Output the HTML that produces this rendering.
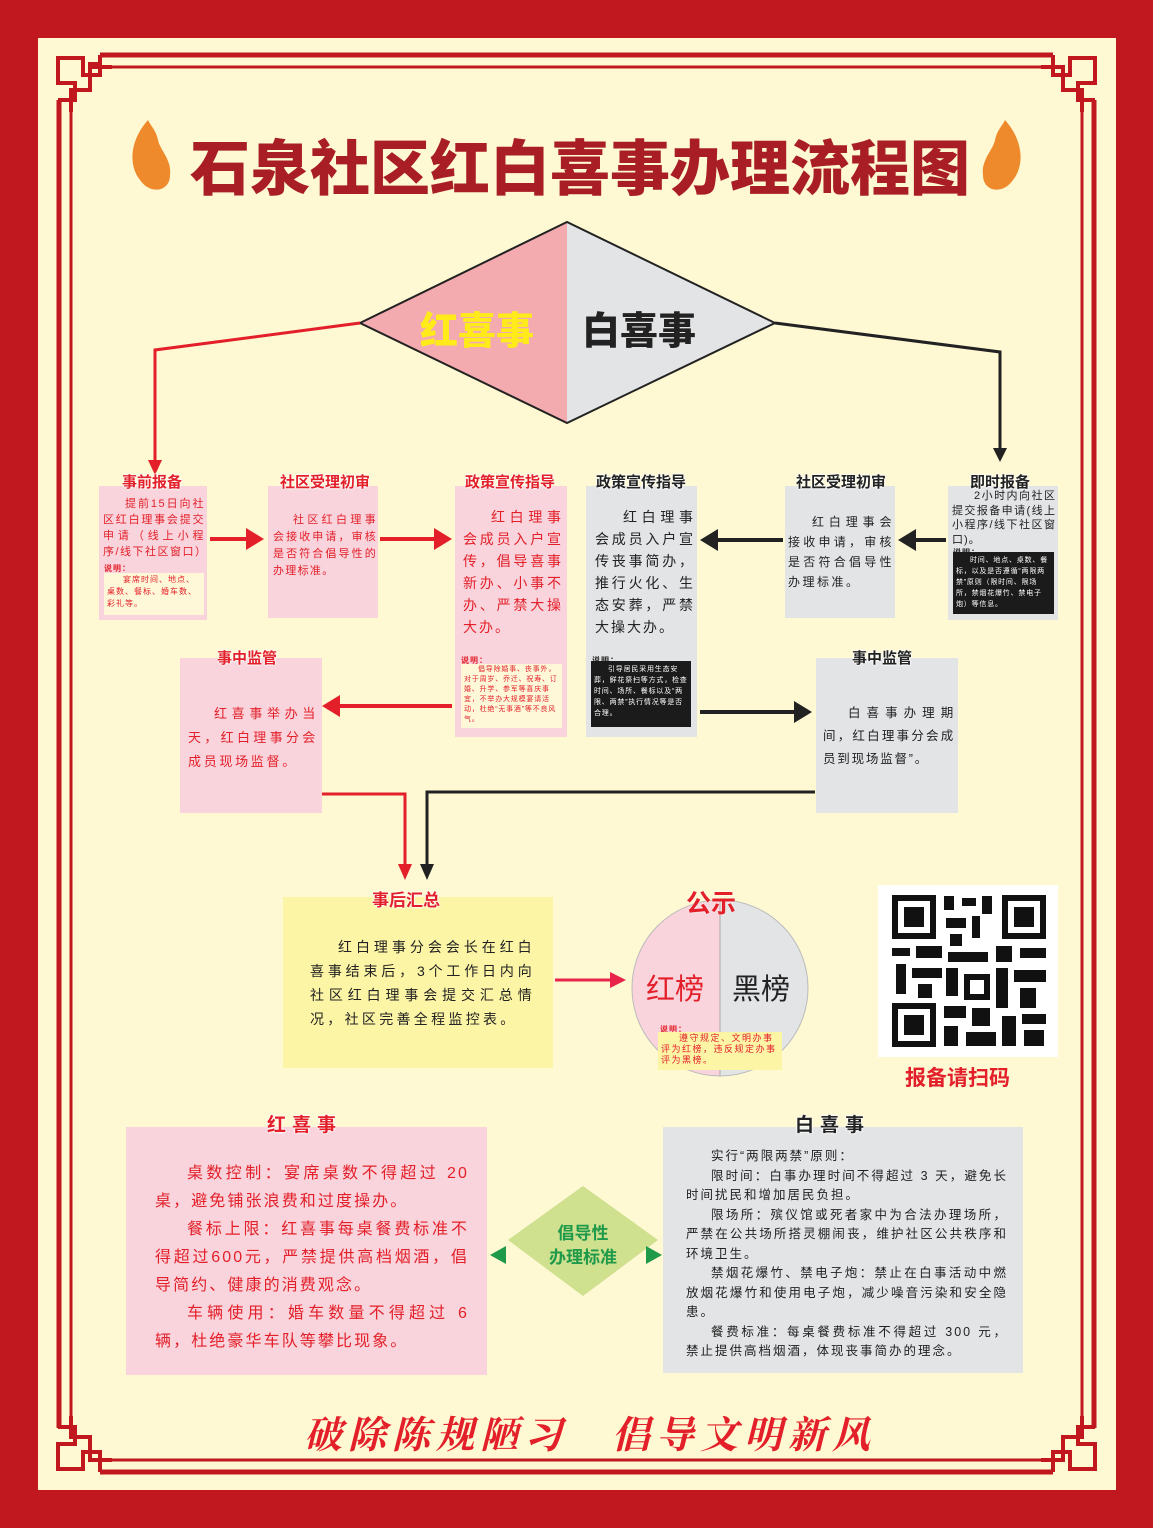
<!DOCTYPE html>
<html><head><meta charset="utf-8"><style>
*{margin:0;padding:0;box-sizing:border-box}
body{width:1153px;height:1528px;background:#c1181f;position:relative;overflow:hidden;font-family:"Liberation Sans","Noto Sans CJK SC",sans-serif}
.cream{position:absolute;left:38px;top:38px;width:1078px;height:1452px;background:#fef8d3}
.a{position:absolute}
.pk{background:#f9d4dc}
.gy{background:#e3e4e6}
.t{position:absolute;font-weight:bold;font-size:15px;white-space:nowrap;text-shadow:0 0 2px #fff,0 0 2px #fff,0 0 2px #fff}
.r{color:#e3202a}.k{color:#222}
.bt{font-size:11.5px;line-height:17px;letter-spacing:1px;text-indent:2em;text-align:justify}
.note{font-size:8px;line-height:12px;letter-spacing:1px}
</style></head><body>
<div class="cream"></div>
<svg class="a" style="left:0;top:0" width="1153" height="1528">
 <g fill="none" stroke="#c1181f">
  <path d="M100 55 H1053 M100 1472 H1053 M59 100 V1428 M1094 100 V1428" stroke-width="5"/>
  <path d="M112 67 H1041 M112 1460 H1041 M71 112 V1416 M1082 112 V1416" stroke-width="3"/>
  <g stroke-width="4">
   <path d="M100 55 V75 H83 V58 H58 V83 H75 V100 H58 M100 64 H88 M71 112 V90 H90 V67 H112"/>
   <path d="M1053 55 V75 H1070 V58 H1095 V83 H1078 V100 H1095 M1082 112 V90 H1063 V67 H1041"/>
   <path d="M100 1472 V1452 H83 V1469 H58 V1444 H75 V1427 H58 M71 1416 V1437 H90 V1460 H112"/>
   <path d="M1053 1472 V1452 H1070 V1469 H1095 V1444 H1078 V1427 H1095 M1082 1416 V1437 H1063 V1460 H1041"/>
  </g>
 </g>
 <g fill="#ee8a2b">
  <path d="M148 120 C130 140 128 165 140 180 C150 195 170 192 170 175 C172 160 160 150 158 140 C156 130 150 125 148 120Z"/>
  <path d="M1005 120 C1023 140 1025 165 1013 180 C1003 195 983 192 983 175 C981 160 993 150 995 140 C997 130 1003 125 1005 120Z"/>
 </g>
 <polygon points="360,323 567,222 567,423" fill="#f4abb0"/>
 <polygon points="567,222 775,323 567,423" fill="#e3e4e6"/>
 <polygon points="360,323 567,222 775,323 567,423" fill="none" stroke="#222" stroke-width="2"/>
 <g stroke-width="3" fill="none">
  <path d="M360 323 L155 350 V462" stroke="#e3202a"/>
  <path d="M775 323 L1000 352 V450" stroke="#222"/>
  <path d="M210 539 H248 M380 539 H436 M452 706 H338" stroke="#e3202a" stroke-width="4"/>
  <path d="M946 540 H914 M783 540 H716 M700 712 H796" stroke="#222" stroke-width="4"/>
  <path d="M320 794 H405 V866" stroke="#e3202a"/>
  <path d="M815 792 H427 V866" stroke="#222"/>
  <path d="M555 980 H612" stroke="#e8244a"/>
 </g>
 <g fill="#e3202a">
  <polygon points="148,460 162,460 155,475"/>
  <polygon points="246,528 264,539 246,550"/><polygon points="434,528 452,539 434,550"/>
  <polygon points="340,695 322,706 340,717"/>
  <polygon points="398,864 412,864 405,880"/>
  <polygon points="610,972 626,980 610,988" fill="#e8244a"/>
 </g>
 <g fill="#222">
  <polygon points="993,448 1007,448 1000,462"/>
  <polygon points="916,529 898,540 916,551"/><polygon points="718,529 700,540 718,551"/>
  <polygon points="794,701 812,712 794,723"/>
  <polygon points="420,864 434,864 427,880"/>
 </g>
 <path d="M720 900 A88 88 0 0 0 720 1076 Z" fill="#f9d4dc"/>
 <path d="M720 900 A88 88 0 0 1 720 1076 Z" fill="#e3e4e6"/>
 <circle cx="720" cy="988" r="88" fill="none" stroke="#bbb" stroke-width="1"/>
 <line x1="720" y1="900" x2="720" y2="1076" stroke="#aaa"/>
 <polygon points="583,1186 658,1240 583,1296 508,1240" fill="#cfe08f"/>
 <polygon points="490,1255 506,1246 506,1264" fill="#1f9a4a"/>
 <polygon points="662,1255 646,1246 646,1264" fill="#1f9a4a"/>
 <rect x="878" y="885" width="180" height="172" fill="#fff"/>
 <g fill="#111">
  <rect x="892" y="895" width="44" height="44"/><rect x="898" y="901" width="32" height="32" fill="#fff"/><rect x="904" y="907" width="20" height="20"/>
  <rect x="1002" y="895" width="44" height="44"/><rect x="1008" y="901" width="32" height="32" fill="#fff"/><rect x="1014" y="907" width="20" height="20"/>
  <rect x="892" y="1003" width="44" height="44"/><rect x="898" y="1009" width="32" height="32" fill="#fff"/><rect x="904" y="1015" width="20" height="20"/>
  <rect x="944" y="896" width="10" height="14"/><rect x="962" y="898" width="14" height="8"/><rect x="982" y="896" width="10" height="18"/>
  <rect x="946" y="918" width="20" height="10"/><rect x="972" y="916" width="8" height="22"/><rect x="950" y="934" width="12" height="12"/>
  <rect x="892" y="948" width="18" height="8"/><rect x="916" y="946" width="26" height="12"/><rect x="948" y="952" width="40" height="10"/>
  <rect x="996" y="946" width="16" height="16"/><rect x="1020" y="948" width="26" height="10"/><rect x="896" y="964" width="10" height="30"/>
  <rect x="912" y="968" width="30" height="10"/><rect x="918" y="984" width="14" height="14"/><rect x="946" y="968" width="12" height="28"/>
  <rect x="964" y="974" width="26" height="26"/><rect x="970" y="980" width="14" height="14" fill="#fff"/><rect x="996" y="968" width="12" height="40"/>
  <rect x="1014" y="970" width="32" height="12"/><rect x="1020" y="988" width="16" height="20"/><rect x="944" y="1006" width="22" height="12"/>
  <rect x="972" y="1008" width="18" height="18"/><rect x="944" y="1026" width="14" height="20"/><rect x="966" y="1032" width="30" height="14"/>
  <rect x="1002" y="1016" width="14" height="30"/><rect x="1022" y="1014" width="24" height="10"/><rect x="1024" y="1030" width="20" height="16"/>
 </g>
</svg>

<div class="a" style="left:180px;top:130px;width:800px;text-align:center;font-size:60px;font-weight:900;color:#a81e24;line-height:80px">石泉社区红白喜事办理流程图</div>
<div class="a" style="left:420px;top:300px;font-size:38px;font-weight:900;color:#ffeb1a">红喜事</div>
<div class="a" style="left:582px;top:300px;font-size:38px;font-weight:900;color:#222">白喜事</div>

<div class="a pk" style="left:99px;top:486px;width:108px;height:134px"></div>
<div class="t r" style="left:122px;top:471px">事前报备</div>
<div class="a r bt" style="left:103px;top:496px;width:102px;font-size:11px;line-height:16px;letter-spacing:1.5px">提前15日向社区红白理事会提交申请（线上小程序/线下社区窗口）</div>
<div class="a r note" style="left:104px;top:563px;font-weight:bold">说明：</div>
<div class="a r note" style="left:104px;top:573px;width:100px;height:42px;background:#fff8d8;padding:1px 3px;text-indent:2em">宴席时间、地点、桌数、餐标、婚车数、彩礼等。</div>

<div class="a pk" style="left:268px;top:486px;width:110px;height:132px"></div>
<div class="t r" style="left:280px;top:471px">社区受理初审</div>
<div class="a r bt" style="left:273px;top:512px;width:104px;font-size:11px;line-height:17px;letter-spacing:1.3px;text-indent:20px">社区红白理事会接收申请，审核是否符合倡导性的办理标准。</div>

<div class="a pk" style="left:455px;top:486px;width:112px;height:251px"></div>
<div class="t r" style="left:465px;top:471px">政策宣传指导</div>
<div class="a r bt" style="left:463px;top:506px;width:100px;font-size:14px;line-height:22px;letter-spacing:2px">红白理事会成员入户宣传，倡导喜事新办、小事不办、严禁大操大办。</div>
<div class="a r note" style="left:461px;top:655px;font-weight:bold">说明：</div>
<div class="a r note" style="left:461px;top:664px;width:101px;height:64px;background:#fff8d8;padding:1px 3px;text-indent:2em;font-size:7px;line-height:10px;letter-spacing:.8px">倡导除婚事、丧事外，对于周岁、乔迁、祝寿、订婚、升学、参军等喜庆事宜，不举办大规模宴请活动，杜绝“无事酒”等不良风气。</div>

<div class="a gy" style="left:586px;top:486px;width:111px;height:251px"></div>
<div class="t k" style="left:596px;top:471px">政策宣传指导</div>
<div class="a k bt" style="left:595px;top:506px;width:100px;font-size:14px;line-height:22px;letter-spacing:2px">红白理事会成员入户宣传丧事简办，推行火化、生态安葬，严禁大操大办。</div>
<div class="a k note" style="left:592px;top:655px;font-weight:bold">说明：</div>
<div class="a note" style="left:591px;top:661px;width:100px;height:66px;background:#1c1b1b;color:#fff;padding:3px 3px;text-indent:2em;font-size:7px;line-height:11px;letter-spacing:.8px">引导居民采用生态安葬，鲜花祭扫等方式，检查时间、场所、餐标以及“两限、两禁”执行情况等是否合理。</div>

<div class="a gy" style="left:785px;top:486px;width:110px;height:132px"></div>
<div class="t k" style="left:796px;top:471px">社区受理初审</div>
<div class="a k bt" style="left:788px;top:512px;width:106px;font-size:12px;line-height:20px;letter-spacing:2.5px;text-indent:24px">红白理事会接收申请，审核是否符合倡导性办理标准。</div>

<div class="a gy" style="left:948px;top:486px;width:110px;height:134px"></div>
<div class="t k" style="left:970px;top:471px">即时报备</div>
<div class="a k bt" style="left:952px;top:489px;width:104px;font-size:11px;line-height:14.5px;letter-spacing:1px">2小时内向社区提交报备申请(线上小程序/线下社区窗口)。</div>
<div class="a k note" style="left:953px;top:547px;font-weight:bold">说明：</div>
<div class="a note" style="left:953px;top:552px;width:101px;height:62px;background:#1c1b1b;color:#fff;padding:3px 3px;text-indent:2em;font-size:7px;line-height:11px;letter-spacing:.8px">时间、地点、桌数、餐标，以及是否遵循“两限两禁”原则（限时间、限场所，禁烟花爆竹、禁电子炮）等信息。</div>

<div class="a pk" style="left:180px;top:658px;width:142px;height:155px"></div>
<div class="t r" style="left:217px;top:647px">事中监管</div>
<div class="a r bt" style="left:188px;top:702px;width:130px;font-size:13px;line-height:24px;letter-spacing:2.7px">红喜事举办当天，红白理事分会成员现场监督。</div>

<div class="a gy" style="left:816px;top:658px;width:142px;height:155px"></div>
<div class="t k" style="left:852px;top:647px">事中监管</div>
<div class="a k bt" style="left:823px;top:702px;width:132px;font-size:12.5px;line-height:23px;letter-spacing:1.8px">白喜事办理期间，红白理事分会成员到现场监督”。</div>

<div class="a" style="left:283px;top:897px;width:270px;height:171px;background:#fdf5a6"></div>
<div class="t r" style="left:372px;top:886px;font-size:17px">事后汇总</div>
<div class="a k bt" style="left:310px;top:935px;width:225px;font-size:14px;line-height:24px;letter-spacing:3.3px">红白理事分会会长在红白喜事结束后，3个工作日内向社区红白理事会提交汇总情况，社区完善全程监控表。</div>

<div class="a r" style="left:686px;top:884px;font-size:25px;font-weight:bold;text-shadow:0 0 2px #fff">公示</div>
<div class="a r" style="left:646px;top:966px;font-size:29px">红榜</div>
<div class="a k" style="left:732px;top:966px;font-size:29px">黑榜</div>
<div class="a r note" style="left:660px;top:1024px;font-weight:bold">说明：</div>
<div class="a r note" style="left:658px;top:1032px;width:124px;height:38px;background:#fdf5a6;padding:1px 3px;text-indent:2em;font-size:9px;line-height:11px;letter-spacing:1.5px">遵守规定、文明办事评为红榜，违反规定办事评为黑榜。</div>
<div class="a r" style="left:905px;top:1062px;font-size:21px;font-weight:bold">报备请扫码</div>

<div class="a pk" style="left:126px;top:1127px;width:361px;height:248px"></div>
<div class="t r" style="left:267px;top:1110px;font-size:19px;letter-spacing:6px">红喜事</div>
<div class="a r bt" style="left:155px;top:1160px;width:314px;font-size:16px;line-height:28px;letter-spacing:2.1px"><p>桌数控制：宴席桌数不得超过 20 桌，避免铺张浪费和过度操办。</p><p>餐标上限：红喜事每桌餐费标准不得超过600元，严禁提供高档烟酒，倡导简约、健康的消费观念。</p><p>车辆使用：婚车数量不得超过 6 辆，杜绝豪华车队等攀比现象。</p></div>

<div class="a" style="left:540px;top:1222px;width:86px;text-align:center;font-size:17px;line-height:24px;font-weight:bold;color:#1f9a4a">倡导性<br>办理标准</div>

<div class="a gy" style="left:663px;top:1127px;width:360px;height:246px"></div>
<div class="t k" style="left:795px;top:1110px;font-size:19px;letter-spacing:6px">白喜事</div>
<div class="a k bt" style="left:686px;top:1147px;width:322px;font-size:12.5px;line-height:19.5px;letter-spacing:2px"><p>实行“两限两禁”原则：</p><p>限时间：白事办理时间不得超过 3 天，避免长时间扰民和增加居民负担。</p><p>限场所：殡仪馆或死者家中为合法办理场所，严禁在公共场所搭灵棚闹丧，维护社区公共秩序和环境卫生。</p><p>禁烟花爆竹、禁电子炮：禁止在白事活动中燃放烟花爆竹和使用电子炮，减少噪音污染和安全隐患。</p><p>餐费标准：每桌餐费标准不得超过 300 元，禁止提供高档烟酒，体现丧事简办的理念。</p></div>

<div class="a r" style="left:200px;top:1404px;width:780px;text-align:center;font-size:38px;letter-spacing:6px;font-family:'Noto Serif CJK SC',serif;font-weight:bold;font-style:italic;white-space:nowrap">破除陈规陋习　倡导文明新风</div>
</body></html>
